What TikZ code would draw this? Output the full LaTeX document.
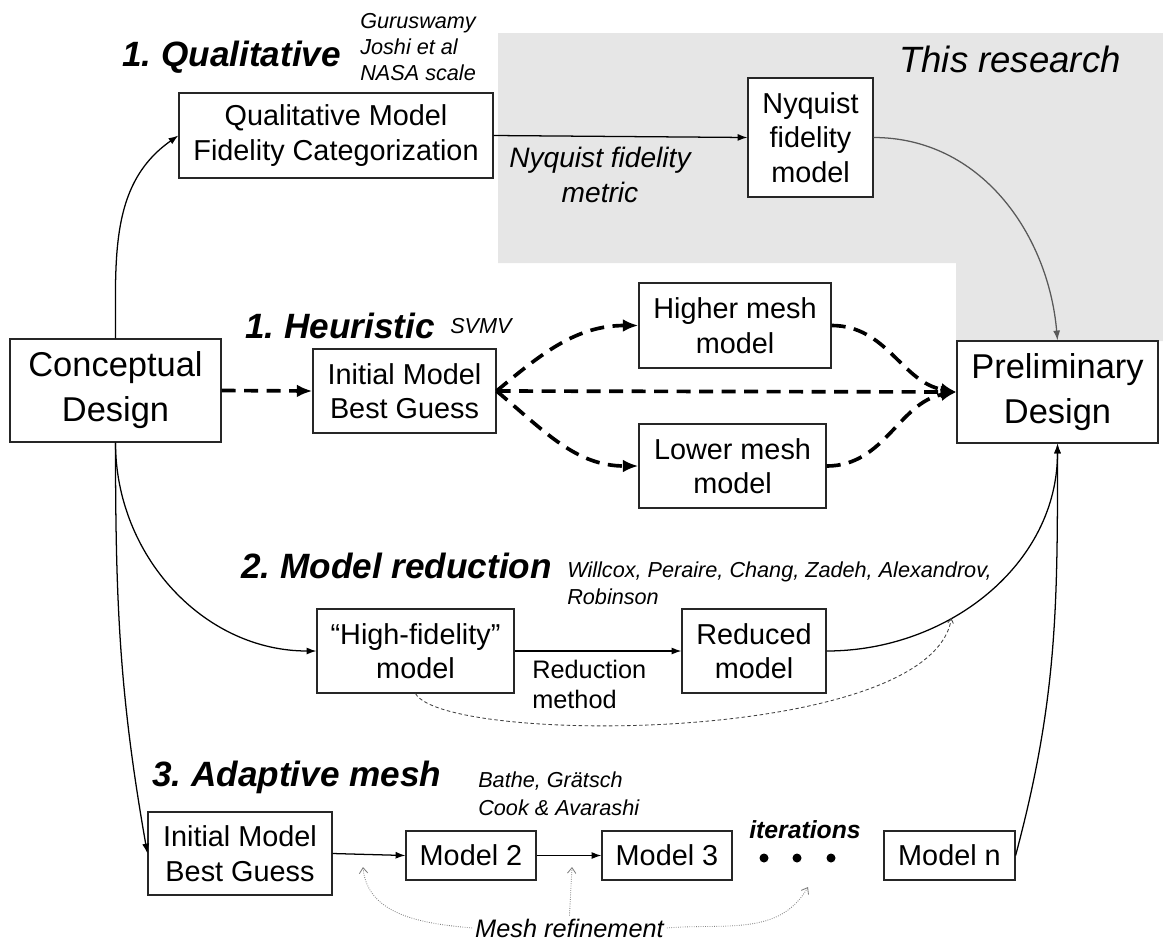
\documentclass[tikz,border=0pt]{standalone}
\usepackage{fontspec}
\setmainfont{Liberation Sans}
\usepackage{xcolor}
\usetikzlibrary{arrows.meta}
\definecolor{researchgray}{RGB}{230,230,230}
\frenchspacing

\begin{document}
\begin{tikzpicture}[x=0.025cm,y=0.025cm,
  box/.style={draw=black!85, line width=0.8pt, fill=white, align=center, inner sep=0pt, font=\fontsize{20.5}{24.6}\selectfont},
  bigbox/.style={box, font=\fontsize{24.5}{32}\selectfont},
  title/.style={anchor=base west, inner sep=0pt, font=\fontsize{25}{30}\selectfont\bfseries\itshape},
  refs/.style={anchor=north west, inner sep=0pt, align=left, font=\fontsize{15.4}{18.7}\selectfont\itshape},
  link/.style={line width=0.9pt, -{Latex[length=7pt,width=5pt]}},
  heur/.style={line width=2.6pt, dash pattern=on 10pt off 6pt, -{Latex[length=11pt,width=9pt]}},
  refine/.style={black!50, line width=0.6pt, densely dotted, -{Straight Barb[length=4pt,width=6pt]}},
  thin/.style={black!75, line width=0.6pt, dash pattern=on 2.5pt off 1.8pt, -{Straight Barb[length=3pt,width=4pt]}}]
\useasboundingbox (0,0) rectangle (1163,-942);
\fill [researchgray] (498,-33) -- (1163,-33) -- (1163,-341) -- (956,-341) -- (956,-263) -- (498,-263) -- cycle;
\node [anchor=base, inner sep=0pt, font=\fontsize{26}{30}\selectfont\itshape] (research) at (1010,-72) {This research};

\node [title] (qualtitle) at (122,-66) {1. Qualitative};
\node [refs] (qualrefs) at (360,-13) {Guruswamy\\Joshi et al\\NASA scale};
\node [box, minimum width=7.85cm, minimum height=2.125cm] (qualbox) at (336,-135.5) {Qualitative Model\\Fidelity Categorization};
\node [box, minimum width=3.125cm, minimum height=2.975cm] (nyq) at (810.5,-137.5) {Nyquist\\fidelity\\model};
\node [inner sep=0pt, align=center, font=\fontsize{20}{24.8}\selectfont\itshape] (metric) at (600,-175) {Nyquist fidelity\\metric};

\node [bigbox, minimum width=5.275cm, minimum height=2.575cm] (concept) at (115.5,-390.5) {Conceptual\\Design};
\node [title] (heurtitle) at (245,-338) {1. Heuristic};
\node [anchor=base west, inner sep=0pt, font=\fontsize{15.4}{18.7}\selectfont\itshape] (svmv) at (450,-333) {SVMV};
\node [box, minimum width=4.575cm, minimum height=2.1cm] (heurinit) at (404.5,-391) {Initial Model\\Best Guess};
\node [box, minimum width=4.8cm, minimum height=2.125cm] (higher) at (735,-325.5) {Higher mesh\\model};
\node [box, minimum width=4.675cm, minimum height=2.1cm] (lower) at (732.5,-466) {Lower mesh\\model};
\node [bigbox, minimum width=5.025cm, minimum height=2.55cm] (prelim) at (1057.5,-392) {Preliminary\\Design};

\node [title] (redtitle) at (241,-578) {2. Model reduction};
\node [refs] (redrefs) at (567,-562) {Willcox, Peraire, Chang, Zadeh, Alexandrov,\\Robinson};
\node [box, minimum width=4.925cm, minimum height=2.1cm] (hifi) at (415.5,-651) {“High-fidelity”\\model};
\node [box, minimum width=3.6cm, minimum height=2.1cm] (reduced) at (754,-651) {Reduced\\model};
\node [anchor=north west, inner sep=0pt, align=left, font=\fontsize{18}{21.3}\selectfont] (redmethod) at (532,-660) {Reduction\\method};

\node [title] (adtitle) at (152,-786) {3. Adaptive mesh};
\node [refs, font=\fontsize{15.4}{19.7}\selectfont\itshape] (adrefs) at (478,-772) {Bathe, Grätsch\\Cook \& Avarashi};
\node [box, minimum width=4.6cm, minimum height=2.075cm] (adinit) at (240,-853.5) {Initial Model\\Best Guess};
\node [box, minimum width=3.25cm, minimum height=1.225cm] (model2) at (471,-855.5) {Model 2};
\node [box, minimum width=3.25cm, minimum height=1.225cm] (model3) at (667,-855.5) {Model 3};
\node [box, minimum width=3.275cm, minimum height=1.225cm] (modeln) at (949.5,-855.5) {Model n};
\node [anchor=base, inner sep=0pt, font=\fontsize{17.6}{21}\selectfont\bfseries\itshape] (iter) at (805,-838) {iterations};
\fill (764,-858) circle (3.2pt) (797,-858) circle (3.2pt) (831,-858) circle (3.2pt);
\node [anchor=base, inner sep=2pt, font=\fontsize{18}{21.6}\selectfont\itshape] (mesh) at (569.5,-937) {Mesh refinement};
\coordinate (tip1) at (363,-867);
\coordinate (tip2) at (572,-867);
\coordinate (tip3) at (808,-887);

\draw [link] (concept.north) to[out=90,in=215] (qualbox.west);
\draw [link] (qualbox.east) -- (nyq.west);
\draw [link, black!65] (nyq.east) to[out=0,in=95] (prelim.north);

\draw [heur] (concept.east) -- (heurinit.west);
\draw [heur] (heurinit.east) to[out=40,in=180] (higher.west);
\draw [heur] (heurinit.east) to[out=-40,in=180] (lower.west);
\draw [heur] (heurinit.east) -- (prelim.west);
\draw [heur] (higher.east) to[out=0,in=170] (prelim.west);
\draw [heur] (lower.east) to[out=0,in=190] (prelim.west);

\draw [link] (concept.south) to[out=-90,in=180] (hifi.west);
\draw [link] (hifi.east) -- (reduced.west);
\draw [link] (reduced.east) to[out=0,in=-90] coordinate[pos=0.37] (tap) (prelim.south);
\draw [thin] (hifi.south) .. controls (445,-745) and (930,-745) .. (tap);

\draw [link] (concept.south) to[out=-90,in=100] (adinit.west);
\draw [link] (adinit.east) -- (model2.west);
\draw [link] (model2.east) -- (model3.west);
\draw [link] (modeln.east) to[out=75,in=-90] (prelim.south);
\draw [refine] (mesh.west) to[out=175,in=-85] (tip1);
\draw [refine] (mesh.north) -- (tip2);
\draw [refine] (mesh.east) to[out=5,in=-120] (tip3);
\end{tikzpicture}
\end{document}
